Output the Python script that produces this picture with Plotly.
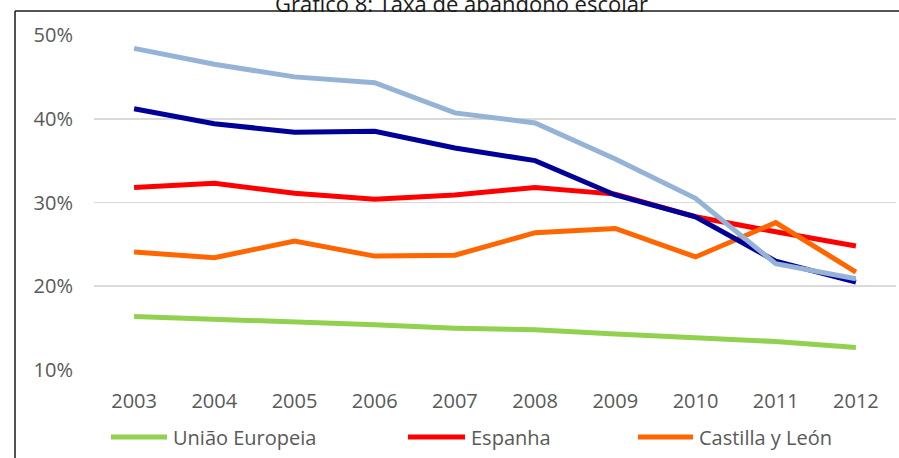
import plotly.graph_objects as go

# Taxa de abandono escolar (%), 2003-2012
anos = ["2003", "2004", "2005", "2006", "2007", "2008", "2009", "2010", "2011", "2012"]
uniao_europeia = [16.4, 16.1, 15.8, 15.4, 15.0, 14.8, 14.3, 13.9, 13.4, 12.7]
espanha = [31.8, 32.3, 31.1, 30.4, 30.9, 31.8, 31.0, 28.3, 26.5, 24.8]
castilla_leon = [24.1, 23.4, 25.4, 23.6, 23.7, 26.4, 26.9, 23.5, 27.6, 21.7]
portugal = [41.2, 39.4, 38.4, 38.5, 36.5, 35.0, 30.9, 28.3, 23.0, 20.5]
regiao_norte = [48.4, 46.5, 45.0, 44.3, 40.7, 39.5, 35.2, 30.5, 22.7, 20.9]

# plot area in page pixels, used to place the frame, title and legend
W, H = 899, 458
L, R, T, B = 94, 3, 35, 88
pw, ph = W - L - R, H - T - B


def px_x(p):
    return (p - L) / pw


def px_y(p):
    return (H - B - p) / ph


series = [
    ("União Europeia", uniao_europeia, "#92D050", True),
    ("Espanha", espanha, "#FF0000", True),
    ("Castilla y León", castilla_leon, "#FF6600", True),
    ("Portugal", portugal, "#000099", False),
    ("Região Norte", regiao_norte, "#95B3D7", False),
]

fig = go.Figure()
for name, vals, color, _ in series:
    fig.add_trace(go.Scatter(
        x=anos, y=vals, name=name, mode="lines",
        line=dict(color=color, width=5),
        showlegend=False, hoverinfo="skip",
    ))

font = "Open Sans, Liberation Sans, sans-serif"

fig.update_layout(
    width=W, height=H,
    margin=dict(l=L, r=R, t=T, b=B),
    paper_bgcolor="white", plot_bgcolor="white",
    font=dict(family=font, size=20, color="#595959"),
    dragmode=False, hovermode=False,
)
fig.update_xaxes(
    type="category", range=[-0.5, len(anos) - 0.5],
    showgrid=False, zeroline=False,
    showline=False, ticks="", ticklabelstandoff=17,
    tickfont=dict(size=20, color="#595959"),
)
fig.update_yaxes(
    range=[10, 50], dtick=10, ticksuffix="%",
    showgrid=True, gridcolor="#D9D9D9", gridwidth=1.6,
    zeroline=False, showline=False, ticks="", ticklabelstandoff=20,
    tickfont=dict(size=20, color="#595959"),
)

# chart frame (left and top edges visible)
frame = dict(type="line", xref="paper", yref="paper", line=dict(color="#1a1a1a", width=1.5))
fig.add_shape(**frame, x0=px_x(15), x1=px_x(15), y0=px_y(11), y1=px_y(H + 20))
fig.add_shape(**frame, x0=px_x(15), x1=px_x(W + 20), y0=px_y(11), y1=px_y(11))

# title, mostly cut off at the top of the picture
fig.add_annotation(
    text="Gráfico 8: Taxa de abandono escolar",
    xref="paper", yref="paper", x=px_x(461), y=px_y(3),
    xanchor="center", yanchor="middle", showarrow=False,
    font=dict(family=font, size=22, color="#1a1a1a"),
)

# legend drawn by hand: longer line samples like the original
legend_pos = [(111, 167), (408, 465), (638, 693)]
for (name, _, color, shown), (a, b) in zip([s for s in series if s[3]], legend_pos):
    fig.add_shape(type="line", xref="paper", yref="paper",
                  x0=px_x(a), x1=px_x(b), y0=px_y(437), y1=px_y(437),
                  line=dict(color=color, width=5))
    fig.add_annotation(text=name, xref="paper", yref="paper",
                       x=px_x(b + 4), y=px_y(437), xanchor="left", yanchor="middle",
                       showarrow=False, font=dict(family=font, size=20, color="#595959"))

fig.write_html("out.html", config={"displayModeBar": False, "staticPlot": True},
               post_script="document.body.style.margin='0';"
                           "document.body.style.overflow='hidden';")
